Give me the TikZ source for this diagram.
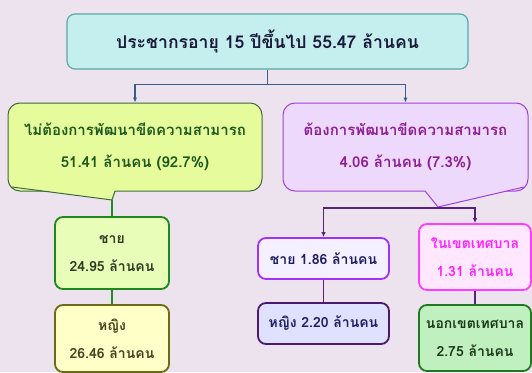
\documentclass[tikz,border=0pt]{standalone}
\usepackage{fontspec}
\setmainfont[Script=Thai]{Loma}
\usetikzlibrary{positioning}
\usetikzlibrary{arrows.meta}

\definecolor{bgcol}{HTML}{EDE3EE}
\definecolor{popfill}{HTML}{C4EFEE}
\definecolor{popline}{HTML}{5AA8A8}
\definecolor{poptext}{HTML}{1A1A3A}
\definecolor{toplink}{HTML}{3A5E8C}
\definecolor{nofill}{HTML}{E6FC9C}
\definecolor{noline}{HTML}{3E6A3E}
\definecolor{notext}{HTML}{1E5A1E}
\definecolor{devfill}{HTML}{EDD9FC}
\definecolor{devline}{HTML}{A040E0}
\definecolor{devtext}{HTML}{8E1E92}
\definecolor{nolink}{HTML}{238B23}
\definecolor{devlink}{HTML}{5A2080}

\begin{document}
\begin{tikzpicture}[x=1pt,y=-1pt,
		callout/.style={rounded corners=12pt, line width=1pt, align=center, inner sep=0pt,
			minimum height=88pt, font=\fontsize{15}{32}\selectfont\bfseries},
		leaf/.style={rounded corners=8pt, line width=1.8pt, align=center, inner sep=0pt,
			font=\fontsize{14}{28}\selectfont\bfseries},
		tip/.style={-{Latex[length=5pt,width=4.5pt]}}
	]
	\fill[bgcol] (0,0) rectangle (532,372);
	\useasboundingbox (0,0) rectangle (532,372);
	\node[fill=popfill, draw=popline, text=poptext, rounded corners=8pt, line width=1.2pt,
		minimum width=401pt, minimum height=55pt, font=\fontsize{17.6}{22}\selectfont\bfseries] (pop) at (267.5,41.5)
		{ประชากรอายุ 15 ปีขึ้นไป 55.47 ล้านคน};
	\node[callout, fill=nofill, draw=noline, text=notext, minimum width=254pt] (nodev) at (135,147)
		{ไม่ต้องการพัฒนาขีดความสามารถ\\51.41 ล้านคน (92.7\%)};
	\node[callout, fill=devfill, draw=devline, text=devtext, minimum width=245pt] (dev) at (405.5,147)
		{ต้องการพัฒนาขีดความสามารถ\\4.06 ล้านคน (7.3\%)};
	\coordinate (notip) at (112,200);
	\fill[nofill] (12,186.5) -- (notip) -- (115,191) -- (115,188) -- cycle;
	\draw[noline, line width=1pt] (12,187) -- (notip) -- (115,191);
	\coordinate (devtip) at (438,207);
	\fill[devfill] (425,188) -- (425,191) -- (devtip) -- (524,187) -- (524,185) -- cycle;
	\draw[devline, line width=1pt] (425,191) -- (devtip) -- (524,187);
	\draw[toplink, line width=1.5pt, tip] (pop.south) -- ++(0,15) -| (nodev.north);
	\draw[toplink, line width=1.5pt, tip] (pop.south) -- ++(0,15) -| (dev.north);

	\node[leaf, fill={rgb,255:red,232;green,254;blue,184}, draw={rgb,255:red,30;green,135;blue,30}, text={rgb,255:red,45;green,60;blue,35},
		minimum width=114pt, minimum height=72pt] (lmale) at (112,253) {ชาย\\24.95 ล้านคน};
	\node[leaf, fill={rgb,255:red,255;green,255;blue,200}, draw={rgb,255:red,110;green,105;blue,20}, text={rgb,255:red,75;green,65;blue,30},
		minimum width=114pt, minimum height=67pt] (lfemale) at (112,338.5) {หญิง\\26.46 ล้านคน};
	\node[leaf, fill={rgb,255:red,245;green,240;blue,255}, draw={rgb,255:red,160;green,50;blue,250}, text={rgb,255:red,30;green,30;blue,100},
		minimum width=131pt, minimum height=41pt] (rmale) at (323.5,258.5) {ชาย 1.86 ล้านคน};
	\node[leaf, fill={rgb,255:red,224;green,224;blue,255}, draw={rgb,255:red,75;green,26;blue,110}, text={rgb,255:red,30;green,30;blue,100},
		minimum width=131pt, minimum height=41pt] (rfemale) at (323.5,323.5) {หญิง 2.20 ล้านคน};
	\node[leaf, fill={rgb,255:red,255;green,232;blue,255}, draw={rgb,255:red,255;green,60;blue,255}, text={rgb,255:red,255;green,34;blue,255},
		minimum width=112pt, minimum height=66pt] (rin) at (475,257) {ในเขตเทศบาล\\1.31 ล้านคน};
	\node[leaf, fill={rgb,255:red,192;green,240;blue,192}, draw={rgb,255:red,31;green,122;blue,31}, text={rgb,255:red,26;green,58;blue,26},
		minimum width=112pt, minimum height=66pt] (rout) at (475,338) {นอกเขตเทศบาล\\2.75 ล้านคน};

	\draw[nolink, line width=1.5pt] (notip) -- (lmale);
	\draw[nolink, line width=1.5pt] (lmale) -- (lfemale);
	\coordinate (devfork) at (438,208);
	\draw[devlink, line width=1.5pt, tip] (devtip) -- (devfork) -| (rmale.north);
	\draw[devlink, line width=1.5pt, tip] (devfork) -| (rin.north);
	\draw[devlink, line width=1.5pt] (rmale) -- (rfemale);
	\draw[devlink, line width=1.5pt] (rin) -- (rout);
\end{tikzpicture}
\end{document}
